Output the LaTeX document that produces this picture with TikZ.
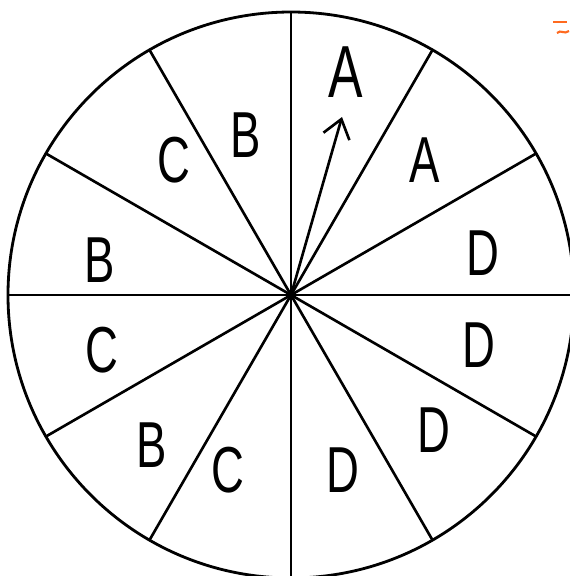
\documentclass[tikz,border=0pt]{standalone}
\usepackage{fontspec}
\setmainfont{Liberation Sans}
\usetikzlibrary{arrows.meta,calc}
\definecolor{ink}{HTML}{000000}
\definecolor{signA}{HTML}{FF6A1F}

\begin{document}
\begin{tikzpicture}[
  x=0.02cm, y=-0.02cm,
  rim/.style={draw=ink, line width=1.6pt},
  spoke/.style={draw=ink, line width=1.5pt},
  letter/.style={font=\fontsize{37}{39}\selectfont, text=ink, xscale=0.7, transform shape},
  pointer/.style={-{Straight Barb[length=3.6mm,width=5.4mm]}, line width=1.5pt, draw=ink}
]
\useasboundingbox (0,0) rectangle (570,576);
\fill[white] (0,0) rectangle (570,576);

\begin{scope}
\clip (0,0) rectangle (570,576);
\coordinate (hub) at (291,295);
\draw[rim] (hub) circle[radius=283];
\foreach \a in {0,30,...,150}
  \draw[spoke] ($(hub)+(\a:283)$) -- ($(hub)+(\a+180:283)$);
\end{scope}

% sector letters
\node[letter, font=\fontsize{42}{44}\selectfont] (a1) at (346,72) {A};
\node[letter] (a2) at (425,160) {A};
\node[letter] (d1) at (483,253) {D};
\node[letter] (d2) at (479,345) {D};
\node[letter] (d3) at (434,430) {D};
\node[letter] (d4) at (343,470) {D};
\node[letter] (c1) at (228,470) {C};
\node[letter] (b1) at (152,445) {B};
\node[letter] (c2) at (102,350) {C};
\node[letter] (b2) at (100,260) {B};
\node[letter] (c3) at (174,160) {C};
\node[letter] (b3) at (246,135) {B};

% pointer
\coordinate (tip) at (342,117);
\draw[pointer] (hub) -- (tip);

% corner sign
\draw[signA, line width=1.2pt] (553,22) -- (567,22);
\draw[signA, line width=1.2pt] (557,33) .. controls (561,29) and (564,35) .. (569,31);
\end{tikzpicture}
\end{document}
